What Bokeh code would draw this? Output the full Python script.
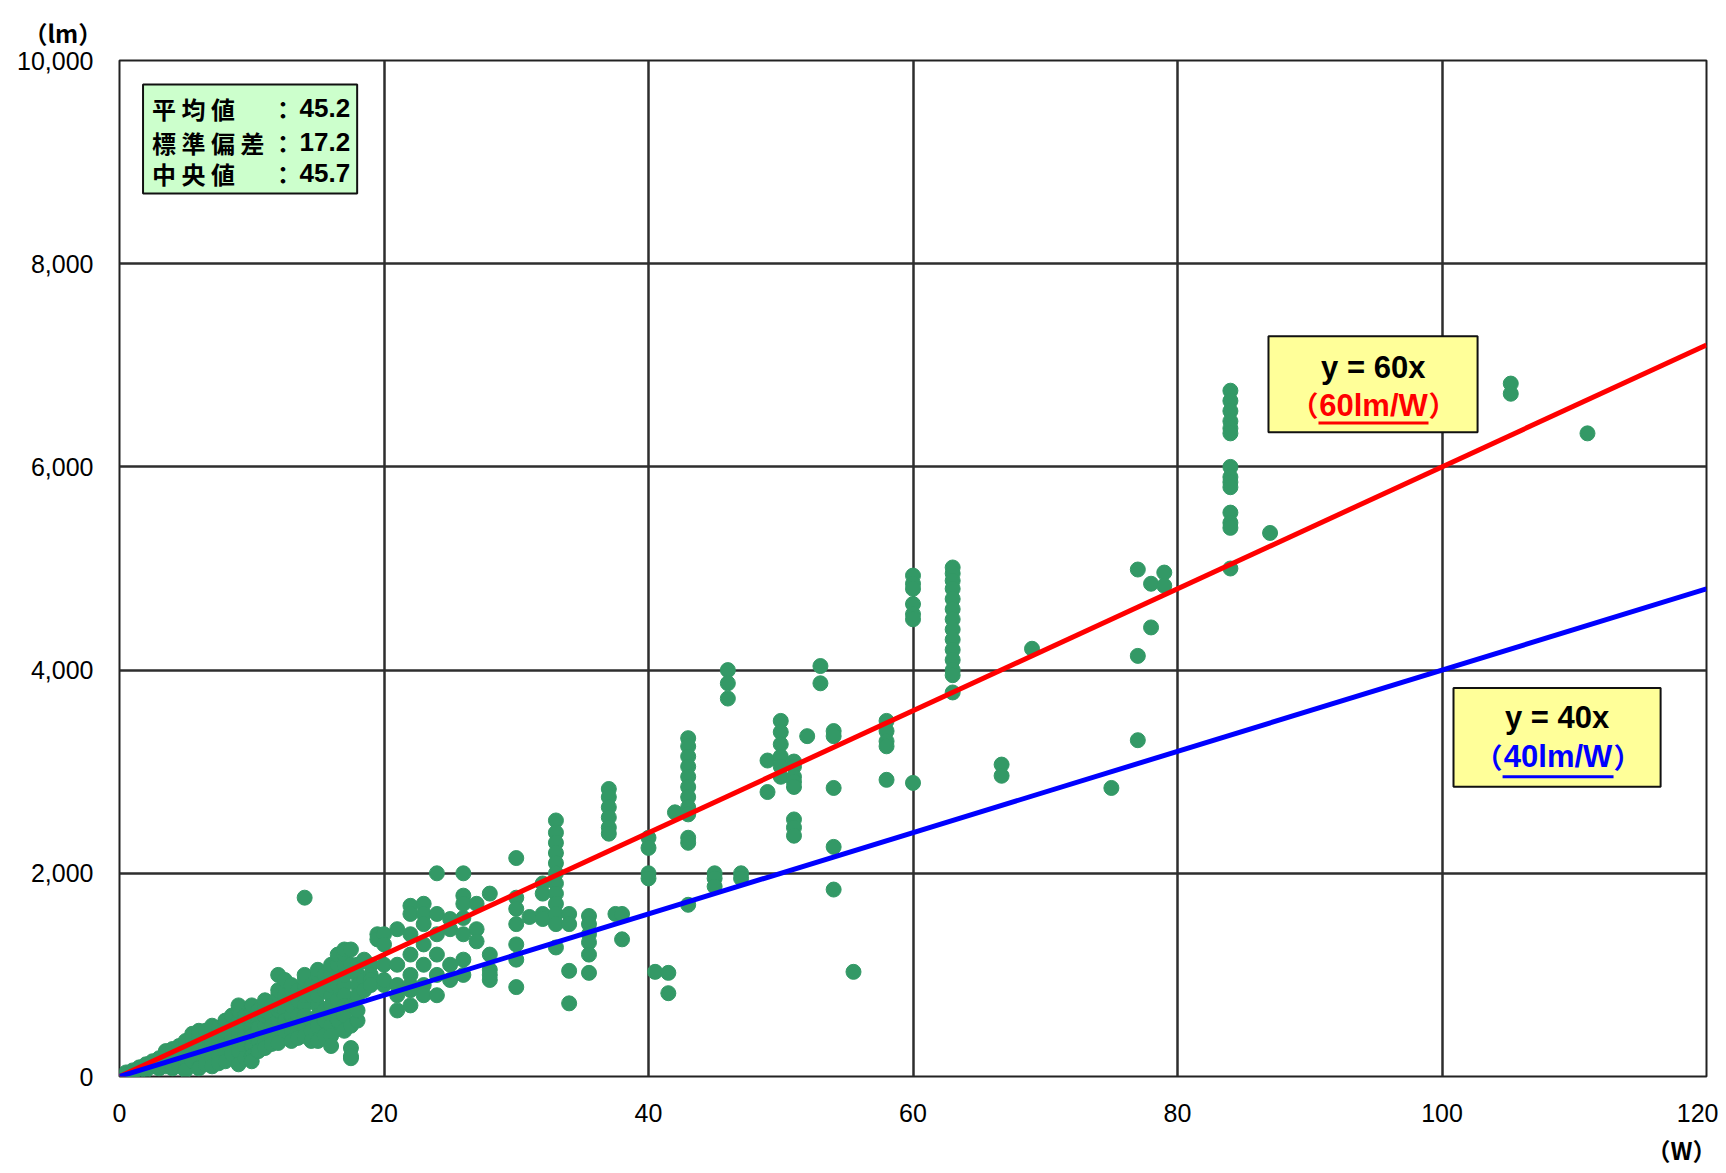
from bokeh.plotting import figure
from bokeh.models import Label, FixedTicker, NumeralTickFormatter, Title
from bokeh.embed import file_html
from bokeh.resources import INLINE

# ---------------- data ----------------
# low wattage region (0-20 W): wattage groups and lumen values per group
low_watts = [0.5, 1, 1.5, 2, 2.5, 3, 3.5, 4, 4.5, 5, 5.5, 6, 6.5, 7, 7.5, 8, 8.5, 9, 9.5,
             10, 10.5, 11, 11.5, 12, 12.5, 13, 13.5, 14, 14.5, 15, 15.5, 16, 16.5, 17,
             17.5, 18, 18.5, 19]
low_lumens = [
    [20, 40], [40, 60, 30], [50, 80, 90], [80, 100, 120, 60], [100, 130, 150],
    [120, 150, 180, 100, 80], [140, 200, 250, 100], [160, 200, 250, 270, 120, 80],
    [200, 250, 300, 150, 100], [200, 250, 300, 350, 180, 120, 60],
    [250, 300, 380, 420, 150], [250, 300, 350, 400, 450, 200, 150, 80],
    [300, 400, 450, 250, 120], [300, 350, 400, 450, 500, 250, 180, 100],
    [350, 420, 480, 300, 200, 130], [350, 400, 450, 500, 550, 300, 250, 150],
    [400, 500, 600, 350, 220], [400, 450, 500, 550, 650, 700, 350, 250, 120],
    [500, 600, 400, 300, 180], [450, 500, 550, 600, 650, 700, 400, 300, 200, 150],
    [550, 650, 480, 350, 250], [500, 600, 650, 700, 750, 400, 350, 280],
    [600, 700, 500, 400, 320], [550, 650, 700, 800, 850, 1000, 450, 400, 330],
    [650, 800, 950, 550, 450], [600, 700, 800, 850, 900, 500, 450, 350],
    [750, 850, 600, 480, 380], [700, 800, 850, 900, 950, 1000, 600, 500, 400, 1760],
    [800, 900, 550, 450, 350], [700, 800, 900, 1000, 1050, 600, 500, 350],
    [850, 1000, 650, 550, 400], [800, 900, 1000, 1100, 700, 600, 500, 400, 300],
    [900, 1100, 1200, 750, 550], [900, 1000, 1100, 1200, 1250, 800, 700, 600, 450],
    [1100, 1250, 700, 500, 280, 180, 200], [1000, 1100, 900, 800, 550, 650],
    [1150, 950, 850], [1100, 1000, 950, 900],
]

# middle region (19.5-40 W)
mid_watts = [19.5, 20, 21, 22, 23, 24, 25, 26, 27, 28, 30, 31, 32, 33, 34, 35.5, 37,
             37.5, 38, 40]
mid_lumens = [
    [1400, 1350], [1400, 1300, 1100, 900, 950], [1450, 1100, 900, 800, 650],
    [1680, 1600, 1400, 1200, 1000, 900, 850, 700],
    [1700, 1600, 1500, 1300, 1100, 900, 800], [2000, 1600, 1400, 1200, 1000, 800],
    [1550, 1450, 1100, 950], [2000, 1780, 1700, 1560, 1400, 1150, 1000],
    [1450, 1330, 1700], [1800, 1200, 1050, 950, 1000],
    [2150, 1760, 1650, 1500, 1300, 1150, 880], [1570], [1900, 1800, 1600, 1550],
    [2520, 2400, 2300, 2200, 2100, 2000, 1900, 1800, 1700, 1600, 1500, 1270],
    [1600, 1500, 1040, 720], [1580, 1500, 1400, 1320, 1200, 1020],
    [2830, 2750, 2650, 2550, 2450, 2390], [1600], [1600, 1350],
    [2350, 2250, 2000, 1950],
]

# high region (40.5-111 W)
high_watts = [40.5, 41.5, 42, 43, 45, 46, 47, 49, 50, 51, 52, 53, 54, 55.5, 58, 60, 63,
              66.7, 69, 75, 77, 78, 79, 84, 87, 105.2, 111]
high_lumens = [
    [1030], [1020, 820], [2600],
    [3330, 3250, 3150, 3050, 2950, 2850, 2750, 2650, 2580, 2350, 2300, 1690],
    [2000, 1950, 1870], [4000, 3870, 3720], [2000, 1950], [3110, 2800],
    [3500, 3390, 3270, 3150, 3050, 2950], [3100, 3050, 2950, 2900, 2850, 2530, 2450, 2370],
    [3350], [4040, 3870], [3400, 3350, 2840, 2260, 1840], [1030],
    [3500, 3400, 3300, 3250, 2920], [4930, 4850, 4800, 4650, 4550, 4500, 2890],
    [5010, 4950, 4880, 4800, 4700, 4600, 4500, 4400, 4300, 4200, 4100, 4000, 3950, 3780],
    [3070, 2960], [4210], [2840], [4990, 4140, 3310], [4850, 4420], [4960, 4830],
    [6750, 6650, 6550, 6450, 6380, 6330, 6000, 5900, 5850, 5800, 5550, 5450, 5400, 5000],
    [5350], [6820, 6720], [6330],
]

# reference efficacy lines (lm/W)
line_slopes = [60, 40]
line_colors = ["#FF0000", "#0000FF"]
x_ticks = [0, 20, 40, 60, 80, 100, 120]
y_ticks = [0, 2000, 4000, 6000, 8000, 10000]

stat_names = ["平 均 値", "標 準 偏 差", "中 央 値"]
stat_values = ["45.2", "17.2", "45.7"]

CJK = "Noto Sans CJK JP"
SANS = "Liberation Sans"

# ---------------- figure ----------------
p = figure(width=1718, height=1172, x_range=(0, 120), y_range=(0, 10000),
           output_backend="svg", toolbar_location=None,
           min_border_left=119, min_border_right=12, min_border_top=60, min_border_bottom=95)
p.background_fill_color = "white"
p.border_fill_color = "white"
p.outline_line_color = "#222222"
p.outline_line_width = 2

# unit titles
p.title = Title(text="（lm）", align="left", offset=-96, standoff=22,
                text_font=CJK, text_font_size="24px", text_font_style="bold",
                text_color="black")
p.add_layout(Title(text="（W）", align="right", offset=-10, standoff=11,
                   text_font=CJK, text_font_size="24px", text_font_style="bold",
                   text_color="black"), "below")

for ax in (p.xaxis[0], p.yaxis[0]):
    ax.axis_line_color = None
    ax.major_tick_line_color = None
    ax.minor_tick_line_color = None
    ax.major_label_text_font = SANS
    ax.major_label_text_font_size = "25px"
    ax.major_label_text_color = "black"
p.xaxis.ticker = FixedTicker(ticks=x_ticks)
p.yaxis.ticker = FixedTicker(ticks=y_ticks)
p.yaxis.formatter = NumeralTickFormatter(format="0,0")
p.xaxis.major_label_standoff = 21
p.yaxis.major_label_standoff = 20

p.xgrid.ticker = FixedTicker(ticks=x_ticks)
p.ygrid.ticker = FixedTicker(ticks=y_ticks)
for g in (p.xgrid[0], p.ygrid[0]):
    g.grid_line_color = "#2e2e2e"
    g.grid_line_width = 2.5

# points
xs, ys = [], []
for ws, ls in ((low_watts, low_lumens), (mid_watts, mid_lumens), (high_watts, high_lumens)):
    for w, lst in zip(ws, ls):
        for v in lst:
            xs.append(w)
            ys.append(v)
p.scatter(xs, ys, size=15, marker="circle", fill_color="#339966", line_color="#339966")

# lines
for s, c in zip(line_slopes, line_colors):
    p.line([0, 120], [0, s * 120], line_color=c, line_width=5)

# ---------------- annotations ----------------
def lab(x, y, text, font=SANS, size="22px", color="black", align="center", style="bold"):
    p.add_layout(Label(x=x, y=y, text=text, text_font=font, text_font_size=size,
                       text_color=color, text_align=align, text_baseline="middle",
                       text_font_style=style))

# statistics box
p.quad(left=[1.78], right=[17.97], top=[9764], bottom=[8692],
       fill_color="#CCFFCC", line_color="#111111", line_width=2)
row_y = [9528, 9194, 8889]
for name, val, yy in zip(stat_names, stat_values, row_y):
    lab(2.46, yy, name, font=CJK, size="24px", align="left")
    lab(12.37, yy, "：", font=CJK, size="24px")
    lab(17.44, yy, val, font=SANS, size="26px", align="right")

# y = 60x box
p.quad(left=[86.88], right=[102.69], top=[7286], bottom=[6342],
       fill_color="#FFFF99", line_color="#111111", line_width=2)
lab(94.8, 6981, "y = 60x", size="31px")
lab(90.66, 6608, "（", font=CJK, size="28px", color="#FF0000", align="right")
lab(94.82, 6608, "60lm/W", size="31px", color="#FF0000")
lab(98.98, 6608, "）", font=CJK, size="28px", color="#FF0000", align="left")
p.line([90.66, 98.98], [6431, 6431], line_color="#FF0000", line_width=3)

# y = 40x box
p.quad(left=[100.87], right=[116.53], top=[3825], bottom=[2852],
       fill_color="#FFFF99", line_color="#111111", line_width=2)
lab(108.7, 3530, "y = 40x", size="31px")
lab(104.58, 3147, "（", font=CJK, size="28px", color="#0000FF", align="right")
lab(108.78, 3147, "40lm/W", size="31px", color="#0000FF")
lab(112.97, 3147, "）", font=CJK, size="28px", color="#0000FF", align="left")
p.line([104.58, 112.97], [2950, 2950], line_color="#0000FF", line_width=3)

open("out.html", "w").write(file_html(p, INLINE))
